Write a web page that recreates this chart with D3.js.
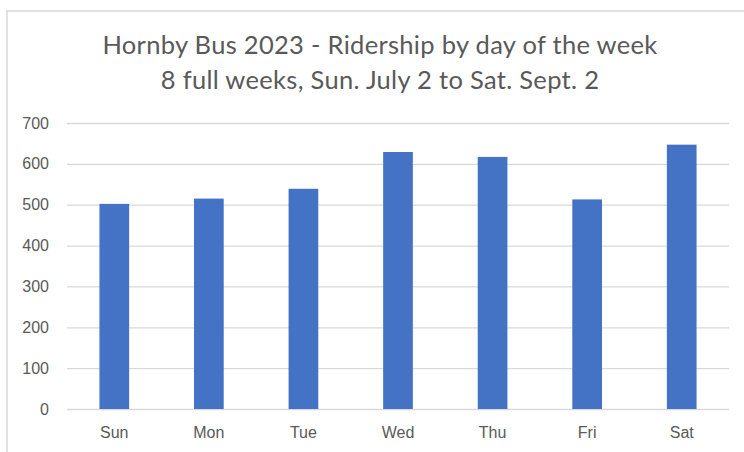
<!DOCTYPE html>
<html>
<head>
<meta charset="utf-8">
<script src="https://cdn.jsdelivr.net/npm/d3@7"></script>
<style>
  body { margin: 0; background: #fff; }
  svg { display: block; font-family: Lato, "Open Sans", sans-serif; }
  .grid line { stroke: #d9d9d9; stroke-width: 1.3; }
  .tick text { fill: #595959; font-size: 16px; }
</style>
</head>
<body>
<script>
// day of week categories and ridership totals
let days = ["Sun", "Mon", "Tue", "Wed", "Thu", "Fri", "Sat"];
let riders = [502, 515, 539, 629, 617, 513, 647];
let yTicks = [0, 100, 200, 300, 400, 500, 600, 700];
let titleLines = ["Hornby Bus 2023 - Ridership by day of the week",
                  "8 full weeks, Sun. July 2 to Sat. Sept. 2"];

let width = 744;
let height = 452;
let margin = {top: 123, right: 15, bottom: 43, left: 67};

let svg = d3.select("body")
            .append("svg")
            .attr("width", width)
            .attr("height", height);

// chart frame, runs off the right and bottom edge like the screenshot
svg.append("rect")
   .attr("x", 7)
   .attr("y", 11)
   .attr("width", width)
   .attr("height", height)
   .attr("fill", "none")
   .attr("stroke", "#d9d9d9")
   .attr("stroke-width", 1.5);

let x = d3.scaleBand()
          .domain(days)
          .range([margin.left, width - margin.right])
          .paddingInner(0.686)
          .paddingOuter(0.343);

let y = d3.scaleLinear()
          .domain([0, 700])
          .range([height - margin.bottom, margin.top]);

// gridlines + y labels
let yAxis = svg.append("g")
   .attr("class", "grid")
   .attr("transform", "translate(" + margin.left + ",0)")
   .call(d3.axisLeft(y)
           .tickValues(yTicks)
           .tickSize(-(width - margin.left - margin.right))
           .tickPadding(18));
yAxis.select(".domain").remove();

// bars
svg.append("g")
   .selectAll("rect")
   .data(riders)
   .join("rect")
   .attr("x", function(d, i) { return x(days[i]); })
   .attr("y", function(d) { return y(d); })
   .attr("width", x.bandwidth())
   .attr("height", function(d) { return y(0) - y(d); })
   .attr("fill", "#4472c4");

// x labels
let xAxis = svg.append("g")
   .attr("transform", "translate(0," + (height - margin.bottom) + ")")
   .call(d3.axisBottom(x).tickSize(0).tickPadding(18));
xAxis.select(".domain").remove();

// title
svg.append("g")
   .selectAll("text")
   .data(titleLines)
   .join("text")
   .attr("x", (100 + 660) / 2)
   .attr("y", function(d, i) { return 54 + i * 35; })
   .attr("text-anchor", "middle")
   .attr("fill", "#595959")
   .attr("font-size", 25.5)
   .attr("letter-spacing", 0.3)
   .text(function(d) { return d; });
</script>
</body>
</html>
